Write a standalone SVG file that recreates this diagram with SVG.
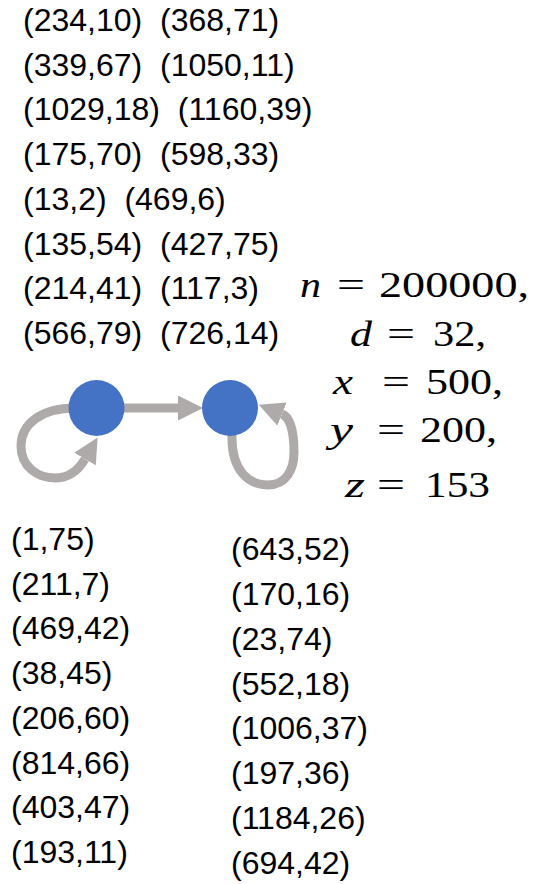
<svg xmlns="http://www.w3.org/2000/svg" width="534" height="884" viewBox="0 0 534 884">
<style>
.t{font-family:"Liberation Sans","Noto Sans CJK JP",sans-serif;font-size:32px;fill:#000;white-space:pre}
.m{font-family:"Liberation Serif","DejaVu Serif",serif;font-size:35px;fill:#000}
.v{font-style:italic}
.e{fill:none;stroke:#AEAAAA;stroke-width:9}
.n{fill:#4472C4}
</style>
<defs>
<marker id="ah" markerUnits="userSpaceOnUse" markerWidth="26" markerHeight="26" refX="0" refY="12.5" orient="auto" viewBox="0 0 26 26">
<path d="M0,0 L25,12.5 L0,25 z" fill="#AEAAAA"/>
</marker>
</defs>
<g id="top-list">
<text class="t" x="23" y="31">(234,10)  (368,71)</text>
<text class="t" x="23" y="75.7">(339,67)  (1050,11)</text>
<text class="t" x="23" y="120.4">(1029,18)  (1160,39)</text>
<text class="t" x="23" y="165.1">(175,70)  (598,33)</text>
<text class="t" x="23" y="209.8">(13,2)  (469,6)</text>
<text class="t" x="23" y="254.5">(135,54)  (427,75)</text>
<text class="t" x="23" y="299.2">(214,41)  (117,3)</text>
<text class="t" x="23" y="344">(566,79)  (726,14)</text>
</g>
<g id="connectors">
<path class="e" d="M124 408 L178 408" marker-end="url(#ah)"/>
<path class="e" d="M75 408 C40 408 21 425 21 446 C21 467 38 478 55 478 C68 478 78 471 85 459" marker-end="url(#ah)"/>
<path class="e" d="M232 435 C231 472 250 485 268 485 C286 485 294 470 294 452 C294 438 292 418 282 414" marker-end="url(#ah)"/>
</g>
<g id="node1"><circle class="n" cx="96.5" cy="408" r="28"/></g>
<g id="node2"><circle class="n" cx="230" cy="408" r="28"/></g>
<g id="params">
<text class="m v" x="300" y="297" textLength="21" lengthAdjust="spacingAndGlyphs">n</text>
<text class="m" x="337" y="297" textLength="28" lengthAdjust="spacingAndGlyphs">=</text>
<text class="m" x="379" y="297" textLength="150" lengthAdjust="spacingAndGlyphs">200000,</text>
<text class="m v" x="350" y="346" textLength="22" lengthAdjust="spacingAndGlyphs">d</text>
<text class="m" x="387" y="346" textLength="28" lengthAdjust="spacingAndGlyphs">=</text>
<text class="m" x="433" y="346" textLength="53" lengthAdjust="spacingAndGlyphs">32,</text>
<text class="m v" x="333" y="394" textLength="20" lengthAdjust="spacingAndGlyphs">x</text>
<text class="m" x="382" y="394" textLength="28" lengthAdjust="spacingAndGlyphs">=</text>
<text class="m" x="426" y="394" textLength="77" lengthAdjust="spacingAndGlyphs">500,</text>
<text class="m v" x="330" y="442" textLength="23" lengthAdjust="spacingAndGlyphs">y</text>
<text class="m" x="377" y="442" textLength="28" lengthAdjust="spacingAndGlyphs">=</text>
<text class="m" x="420" y="442" textLength="77" lengthAdjust="spacingAndGlyphs">200,</text>
<text class="m v" x="345" y="497" textLength="20" lengthAdjust="spacingAndGlyphs">z</text>
<text class="m" x="377" y="497" textLength="28" lengthAdjust="spacingAndGlyphs">=</text>
<text class="m" x="425" y="497" textLength="65" lengthAdjust="spacingAndGlyphs">153</text>
</g>
<g id="bottom-left">
<text class="t" x="11" y="550">(1,75)</text>
<text class="t" x="11" y="594.7">(211,7)</text>
<text class="t" x="11" y="639.4">(469,42)</text>
<text class="t" x="11" y="684.1">(38,45)</text>
<text class="t" x="11" y="728.8">(206,60)</text>
<text class="t" x="11" y="773.5">(814,66)</text>
<text class="t" x="11" y="818.2">(403,47)</text>
<text class="t" x="11" y="863">(193,11)</text>
</g>
<g id="bottom-right">
<text class="t" x="231" y="560">(643,52)</text>
<text class="t" x="231" y="604.8">(170,16)</text>
<text class="t" x="231" y="649.7">(23,74)</text>
<text class="t" x="231" y="694.5">(552,18)</text>
<text class="t" x="231" y="739.4">(1006,37)</text>
<text class="t" x="231" y="784.2">(197,36)</text>
<text class="t" x="231" y="829">(1184,26)</text>
<text class="t" x="231" y="874">(694,42)</text>
</g>
</svg>
